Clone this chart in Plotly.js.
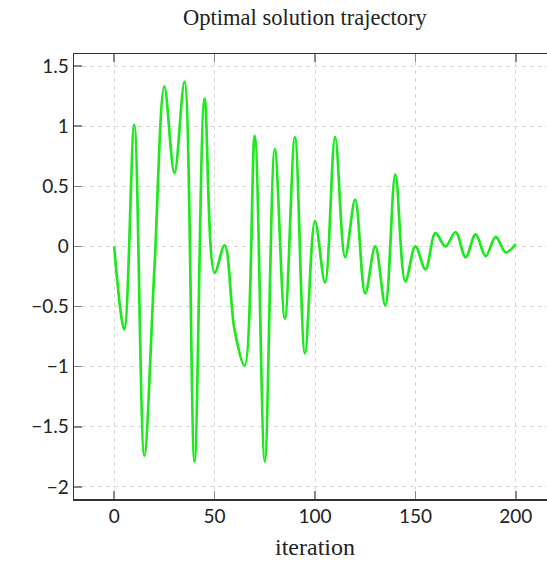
<!DOCTYPE html>
<html>
<head>
<meta charset="utf-8">
<script src="https://cdn.plot.ly/plotly-3.0.1.min.js"></script>
<style>
html,body{margin:0;padding:0;overflow:hidden;background:#fff;}
#chart{width:600px;height:561px;}
</style>
</head>
<body>
<div id="chart"></div>
<script>
const iteration = [0,5,10,15,20,25,30,35,40,45,50,55,60,65,70,75,80,85,90,95,100,
  105,110,115,120,125,130,135,140,145,150,155,160,165,170,175,180,185,190,195,200];
const solution = [0,-0.69,1.01,-1.74,-0.2,1.33,0.61,1.37,-1.79,1.23,-0.22,0.01,-0.7,-0.99,0.92,-1.79,0.81,-0.6,0.91,-0.89,0.21,
  -0.3,0.91,-0.09,0.39,-0.39,0.0,-0.49,0.6,-0.29,0.0,-0.19,0.11,0.0,0.12,-0.09,0.1,-0.08,0.08,-0.05,0.02];
const xTicks = [0,50,100,150,200];
const yTicks = [-2,-1.5,-1,-0.5,0,0.5,1,1.5];
const yTickText = ['\u22122','\u22121.5','\u22121','\u22120.5','0','0.5','1','1.5'];

const axisCommon = {
  showline: true, linecolor: '#333', linewidth: 1.5, mirror: 'ticks',
  ticks: 'inside', ticklen: 8, tickcolor: '#888', tickwidth: 1.5,
  showgrid: true, gridcolor: '#d8d8d8', griddash: '4px,4px', gridwidth: 1,
  zeroline: false,
  tickfont: {family: 'Lato, sans-serif', size: 19, color: '#222'}
};

Plotly.newPlot('chart', [{
  x: iteration, y: solution, type: 'scatter', mode: 'lines',
  line: {color: '#1ee81e', width: 2.7, shape: 'spline', smoothing: 1}
}], {
  width: 600, height: 561,
  margin: {l: 74, r: 44, t: 54, b: 62},
  paper_bgcolor: '#fff', plot_bgcolor: '#fff',
  showlegend: false,
  title: {text: 'Optimal solution trajectory', x: 0.479, xref: 'paper', xanchor: 'center',
          y: 0.97, yref: 'container', yanchor: 'middle',
          font: {family: '"Liberation Serif", serif', size: 22.5, color: '#222'}},
  xaxis: Object.assign({}, axisCommon, {
    range: [-20, 220], tickvals: xTicks, ticktext: xTicks.map(String),
    title: {text: 'iteration', standoff: 12, font: {family: '"Liberation Serif", serif', size: 24, color: '#222'}}
  }),
  yaxis: Object.assign({}, axisCommon, {
    range: [-2.1, 1.6], tickvals: yTicks, ticktext: yTickText
  })
}, {staticPlot: true});
</script>
</body>
</html>
